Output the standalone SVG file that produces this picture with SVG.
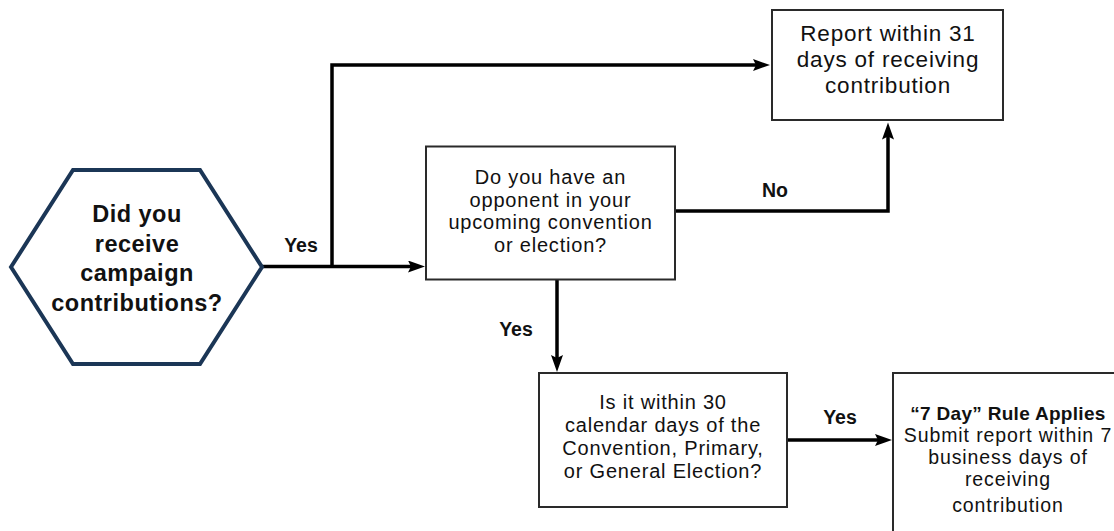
<svg xmlns="http://www.w3.org/2000/svg" width="1114" height="531" viewBox="0 0 1114 531">
<defs>
<style>
.box{fill:#fff;stroke:#2a2a2a;stroke-width:2}
.hex{fill:#fff;stroke:#1b3656;stroke-width:4;stroke-linejoin:miter}
.t{font-family:"Liberation Sans",Arial,sans-serif;font-size:20px;letter-spacing:0.8px;fill:#111;text-anchor:middle}
.tb{font-family:"Liberation Sans",Arial,sans-serif;font-weight:700;font-size:23.5px;letter-spacing:0.5px;fill:#111;text-anchor:middle}
.lbl{font-family:"Liberation Sans",Arial,sans-serif;font-weight:700;font-size:19.5px;fill:#111;text-anchor:middle}
.c{fill:none;stroke:#000;stroke-width:3.5;stroke-linejoin:miter}
</style>
<marker id="arr" markerUnits="userSpaceOnUse" markerWidth="18" markerHeight="14" refX="9" refY="6" orient="auto">
<path d="M0,0 L17,6 L0,12 L3,6 Z" fill="#000"/>
</marker>
</defs>
<rect width="1114" height="531" fill="#fff"/>
<g id="connectors">
<path class="c" d="M262,266.5 H417" marker-end="url(#arr)"/>
<path class="c" d="M332,266.5 V65 H762" marker-end="url(#arr)"/>
<path class="c" d="M675,211 H888 V130.5" marker-end="url(#arr)"/>
<path class="c" d="M557,280 V364" marker-end="url(#arr)"/>
<path class="c" d="M787,440 H884" marker-end="url(#arr)"/>
<text class="lbl" x="301" y="252">Yes</text>
<text class="lbl" x="775" y="197">No</text>
<text class="lbl" x="516" y="336">Yes</text>
<text class="lbl" x="840" y="424">Yes</text>
</g>
<g id="start">
<polygon class="hex" points="11,267 73,170 200,170 262,267 200,364 73,364"/>
<text class="tb" x="137" y="222"><tspan x="137">Did you</tspan><tspan x="137" dy="29.7">receive</tspan><tspan x="137" dy="29.7">campaign</tspan><tspan x="137" dy="29.7">contributions?</tspan></text>
</g>
<g id="report31">
<rect class="box" x="772" y="10" width="231" height="110"/>
<text class="t" x="888" y="41" style="font-size:22.5px"><tspan x="888">Report within 31</tspan><tspan x="888" dy="26">days of receiving</tspan><tspan x="888" dy="26">contribution</tspan></text>
</g>
<g id="opponent">
<rect class="box" x="426" y="146.5" width="249" height="133"/>
<text class="t" x="550.5" y="184"><tspan x="550.5">Do you have an</tspan><tspan x="550.5" dy="22.7">opponent in your</tspan><tspan x="550.5" dy="22.7">upcoming convention</tspan><tspan x="550.5" dy="22.7">or election?</tspan></text>
</g>
<g id="within30">
<rect class="box" x="539" y="373" width="248" height="134"/>
<text class="t" x="663" y="409"><tspan x="663">Is it within 30</tspan><tspan x="663" dy="23">calendar days of the</tspan><tspan x="663" dy="23">Convention, Primary,</tspan><tspan x="663" dy="23">or General Election?</tspan></text>
</g>
<g id="sevenday">
<rect class="box" x="893" y="373" width="240" height="170"/>
<text class="t" x="1008" y="420" style="font-size:19.5px;letter-spacing:0.9px"><tspan x="1008" style="font-weight:700;font-size:19px;letter-spacing:0.3px">“7 Day” Rule Applies</tspan><tspan x="1008" dy="22">Submit report within 7</tspan><tspan x="1008" dy="22">business days of</tspan><tspan x="1008" dy="22">receiving</tspan><tspan x="1008" dy="26">contribution</tspan></text>
</g>
</svg>
